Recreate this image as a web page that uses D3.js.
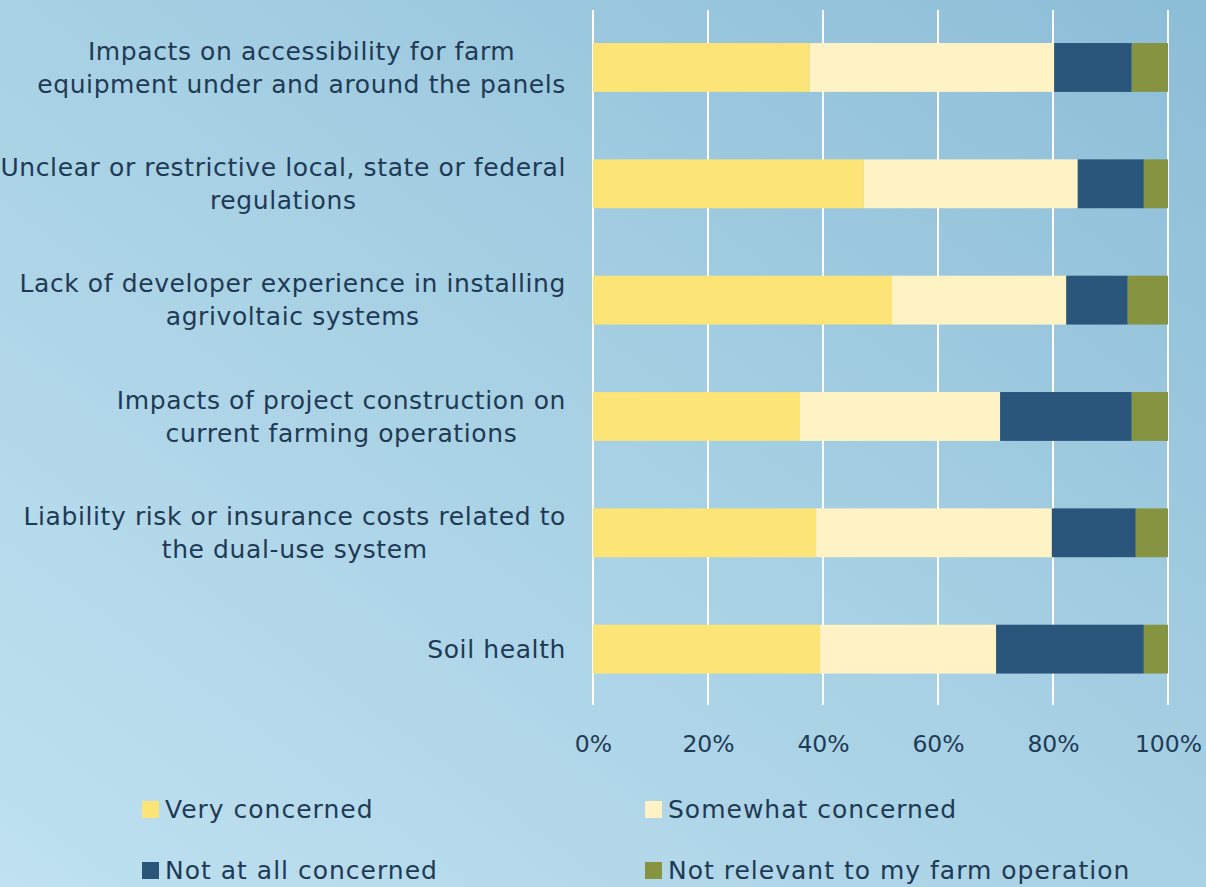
<!DOCTYPE html>
<html>
<head>
<meta charset="utf-8">
<script src="https://cdn.jsdelivr.net/npm/d3@7"></script>
<style>
  html, body { margin: 0; padding: 0; }
  body { width: 1206px; height: 887px; overflow: hidden; }
  svg { display: block; }
</style>
</head>
<body>
<script>
"use strict";

// categories top to bottom, each label split into its lines
const categories = [
    ["Impacts on accessibility for farm", "equipment under and around the panels"],
    ["Unclear or restrictive local, state or federal", "regulations"],
    ["Lack of developer experience in installing", "agrivoltaic systems"],
    ["Impacts of project construction on", "current farming operations"],
    ["Liability risk or insurance costs related to", "the dual-use system"],
    ["Soil health"]
];

const seriesNames = ["Very concerned", "Somewhat concerned", "Not at all concerned", "Not relevant to my farm operation"];
const seriesColors = ["#fce476", "#fff3c6", "#2a567b", "#869442"];

// percent of respondents
const veryConcerned     = [37.7, 47.1, 52.0, 36.0, 38.8, 39.5];
const somewhatConcerned = [42.5, 37.2, 30.3, 34.8, 41.0, 30.6];
const notAtAllConcerned = [13.5, 11.5, 10.7, 22.9, 14.6, 25.7];
const notRelevant       = [6.3, 4.2, 7.0, 6.3, 5.6, 4.2];

const xTicks = [0, 20, 40, 60, 80, 100];

const w = 1206, h = 887;
const textColor = "#1f3a55";
const fontFamily = "'DejaVu Sans', sans-serif";

// build rows for the stack
let rows = categories.map(function (c, i) {
    return {
        key: i,
        s0: veryConcerned[i],
        s1: somewhatConcerned[i],
        s2: notAtAllConcerned[i],
        s3: notRelevant[i]
    };
});

let stack = d3.stack().keys(["s0", "s1", "s2", "s3"]);
let layers = stack(rows);

let svg = d3.select("body")
    .append("svg")
    .attr("width", w)
    .attr("height", h);

// background gradient, light bottom-left to darker top-right
let defs = svg.append("defs");
let grad = defs.append("linearGradient")
    .attr("id", "bg")
    .attr("x1", "0%").attr("y1", "100%")
    .attr("x2", "100%").attr("y2", "0%");
grad.append("stop").attr("offset", "0%").attr("stop-color", "#bfe1f0");
grad.append("stop").attr("offset", "55%").attr("stop-color", "#a5cfe3");
grad.append("stop").attr("offset", "100%").attr("stop-color", "#8cbdd7");

svg.append("rect")
    .attr("width", w)
    .attr("height", h)
    .attr("fill", "url(#bg)");

let x = d3.scaleLinear()
    .domain([0, 100])
    .range([593, 1168]);

let y = d3.scaleBand()
    .domain(d3.range(categories.length))
    .range([9.3, 707.3])
    .paddingInner(0.58)
    .paddingOuter(0.29);

// vertical gridlines
svg.append("g")
    .selectAll("line")
    .data(xTicks)
    .enter()
    .append("line")
    .attr("x1", function (d) { return x(d); })
    .attr("x2", function (d) { return x(d); })
    .attr("y1", 10)
    .attr("y2", 705)
    .attr("stroke", "#ffffff")
    .attr("stroke-width", 2);

// bars
svg.append("g")
    .selectAll("g")
    .data(layers)
    .enter()
    .append("g")
    .attr("fill", function (d, i) { return seriesColors[i]; })
    .selectAll("rect")
    .data(function (d) { return d; })
    .enter()
    .append("rect")
    .attr("x", function (d) { return x(d[0]); })
    .attr("width", function (d) { return x(d[1]) - x(d[0]); })
    .attr("y", function (d) { return y(d.data.key); })
    .attr("height", y.bandwidth());

// tick labels
let xAxis = d3.axisBottom(x)
    .tickValues(xTicks)
    .tickFormat(function (d) { return d + "%"; })
    .tickSize(0)
    .tickPadding(0);

let axisG = svg.append("g")
    .attr("transform", "translate(0,735)")
    .call(xAxis);
axisG.select(".domain").remove();
axisG.selectAll("text")
    .attr("fill", textColor)
    .style("font-family", fontFamily)
    .style("font-size", "23.5px")
    .attr("dy", "0.71em");

// category labels: lines centred to each other, block right aligned
let labelRight = 566;
let lineGap = 33;
let labelG = svg.append("g");
categories.forEach(function (lines, i) {
    let cy = y(i) + y.bandwidth() / 2;
    let g = labelG.append("g");
    let texts = lines.map(function (line, j) {
        return g.append("text")
            .attr("y", cy + (j - (lines.length - 1) / 2) * lineGap)
            .attr("dy", "0.35em")
            .attr("text-anchor", "middle")
            .attr("fill", textColor)
            .style("font-family", fontFamily)
            .style("font-size", "25px")
            .style("letter-spacing", "0.6px")
            .text(line);
    });
    let maxW = d3.max(texts, function (t) { return t.node().getComputedTextLength(); });
    texts.forEach(function (t) { t.attr("x", labelRight - maxW / 2); });
});

// legend, two columns by two rows
let legendPos = [[142, 809], [645, 809], [142, 870], [645, 870]];
let legend = svg.append("g")
    .selectAll("g")
    .data(seriesNames)
    .enter()
    .append("g")
    .attr("transform", function (d, i) { return "translate(" + legendPos[i][0] + "," + legendPos[i][1] + ")"; });

legend.append("rect")
    .attr("x", 0)
    .attr("y", -8)
    .attr("width", 17)
    .attr("height", 17)
    .attr("fill", function (d, i) { return seriesColors[i]; });

legend.append("text")
    .attr("x", 23)
    .attr("y", 0)
    .attr("dy", "0.35em")
    .attr("fill", textColor)
    .style("font-family", fontFamily)
    .style("font-size", "25px")
    .style("letter-spacing", "1px")
    .text(function (d) { return d; });
</script>
</body>
</html>
